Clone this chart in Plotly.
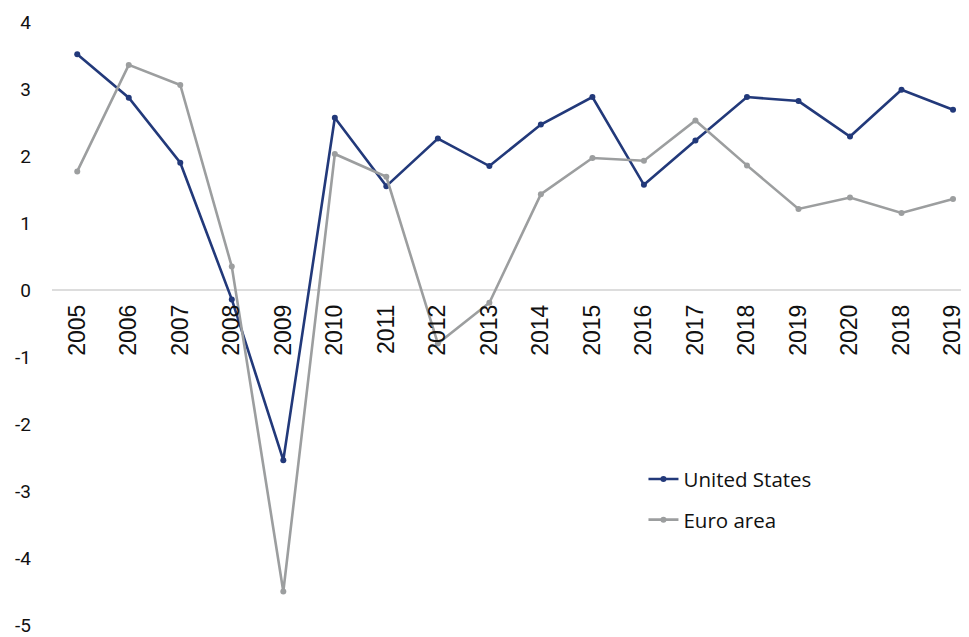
import plotly.graph_objects as go

categories = ["2005", "2006", "2007", "2008", "2009", "2010", "2011", "2012", "2013",
              "2014", "2015", "2016", "2017", "2018", "2019", "2020", "2018", "2019"]
united_states = [3.52, 2.87, 1.90, -0.14, -2.54, 2.57, 1.55, 2.26, 1.85,
                 2.47, 2.88, 1.57, 2.23, 2.88, 2.82, 2.29, 2.99, 2.69]
euro_area = [1.77, 3.36, 3.06, 0.35, -4.50, 2.03, 1.69, -0.80, -0.19,
             1.43, 1.97, 1.93, 2.53, 1.86, 1.21, 1.38, 1.15, 1.36]
y_ticks = [-5, -4, -3, -2, -1, 0, 1, 2, 3, 4]
y_tick_labels = ["-5", "-4", "-3", "-2", "-1", "0", "1", "2", "3", "4"]

NAVY = "#22397A"
GREY = "#9C9E9F"

x_pos = list(range(len(categories)))

fig = go.Figure()
fig.add_trace(go.Scatter(
    x=x_pos, y=united_states, name="United States", mode="lines+markers",
    line=dict(color=NAVY, width=2.6), marker=dict(color=NAVY, size=6),
    legendgroup="us"))
fig.add_trace(go.Scatter(
    x=x_pos, y=euro_area, name="Euro area", mode="lines+markers",
    line=dict(color=GREY, width=2.6), marker=dict(color=GREY, size=6),
    legendgroup="ea"))

# page body has an 8px margin, so the figure is sized to fit the window
fig.update_layout(
    width=961, height=629,
    margin=dict(l=44, r=0, t=14, b=12),
    paper_bgcolor="white", plot_bgcolor="white",
    showlegend=True,
    legend=dict(x=0.645, xanchor="left", y=0.275, yanchor="top",
                font=dict(family="Open Sans", size=20.5, color="#111111"),
                tracegroupgap=11, bgcolor="rgba(0,0,0,0)"),
    xaxis=dict(
        tickmode="array", tickvals=x_pos, ticktext=categories,
        range=[-0.49, 17.31], anchor="free", position=5 / 9,
        tickangle=-90, showgrid=False, zeroline=False, showline=False,
        ticks="", ticklabelstandoff=9,
        tickfont=dict(family="Liberation Sans", size=23, color="#111111")),
    yaxis=dict(
        range=[-5, 4], tickmode="array", tickvals=y_ticks, ticktext=y_tick_labels,
        showgrid=False, zeroline=True, zerolinecolor="#DDDDDD", zerolinewidth=1.5,
        showline=False, ticks="", ticklabelstandoff=20,
        tickfont=dict(family="Roboto", size=19, color="#111111")),
)

fig.write_html("out.html")
